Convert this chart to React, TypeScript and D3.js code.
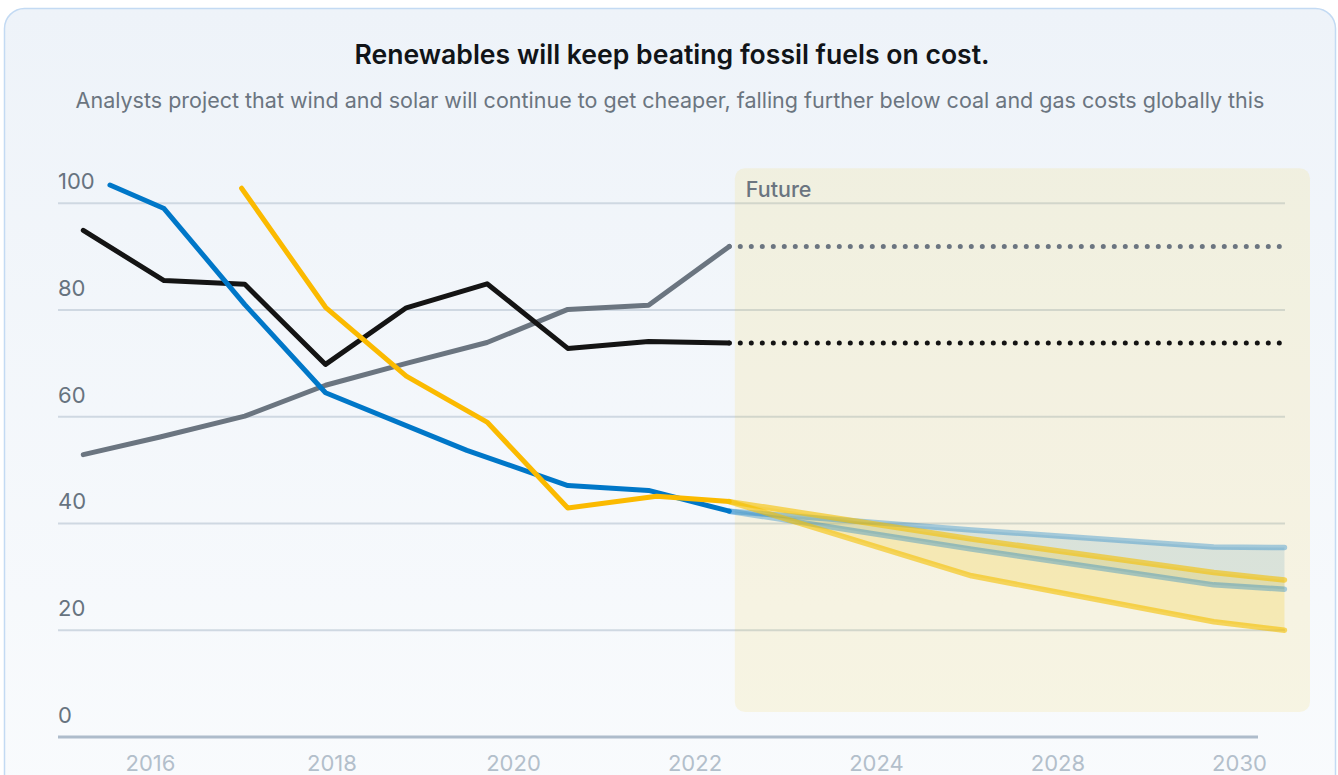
import React from "react";
import * as d3 from "d3";

// ---- data ----
const title = "Renewables will keep beating fossil fuels on cost.";
const subtitle =
  "Analysts project that wind and solar will continue to get cheaper, falling further below coal and gas costs globally this";
const yTicks = [0, 20, 40, 60, 80, 100];
const xTickLabels = ["2016", "2018", "2020", "2022", "2024", "2028", "2030"];

// historical series: step position along the time axis + value
const coalSteps = [0, 1, 2, 3, 4, 5, 6, 7, 8];
const coalValues = [94.9, 85.5, 84.8, 69.8, 80.4, 84.9, 72.8, 74.1, 73.8];
const gasSteps = [0, 0.95, 2, 3, 4, 5, 6, 7, 8];
const gasValues = [52.9, 56.2, 60.1, 65.9, 70.0, 73.9, 80.1, 80.9, 91.9];
const windSteps = [0.33, 1, 2, 3, 4.75, 6, 7, 8];
const windValues = [103.4, 99.0, 81.0, 64.5, 53.7, 47.1, 46.2, 42.3];
const solarSteps = [1.96, 3, 4, 5, 6, 7.1, 8];
const solarValues = [102.8, 80.5, 67.6, 59.0, 42.9, 45.1, 44.1];

// projections
const futureSteps = [8, 11, 14, 14.875];
const windHigh = [42.3, 38.8, 35.6, 35.5];
const windLow = [42.3, 35.2, 28.5, 27.7];
const solarHigh = [44.1, 37.1, 30.8, 29.4];
const solarLow = [44.1, 30.2, 21.6, 20.0];
const coalFlat = [73.8, 73.8];
const gasFlat = [91.9, 91.9];
const flatSteps = [8, 14.875];

// ---- styles ----
const W = 1338;
const H = 775;
const FONT = "Inter, 'Noto Sans', sans-serif";
const COL = {
  coal: "#141414",
  gas: "#6b7580",
  wind: "#0077c8",
  solar: "#fbba00",
  grid: "#cfd8e2",
  axis: "#aebccb",
  label: "#67737f",
  xlabel: "#b3bfcb",
};

type P = { s: number; v: number };
const zip = (s: number[], v: number[]): P[] => s.map((d, i) => ({ s: d, v: v[i] }));

export default function App() {
  const plotLeft = 58;
  const plotRight = 1285;
  const x = d3.scaleLinear().domain([0, 8]).range([83.3, 729.3]);
  const y = d3.scaleLinear().domain([0, 100]).range([737, 203.2]);
  const xl = d3.scalePoint<string>().domain(xTickLabels).range([150.5, 1239.5]);

  const line = d3
    .line<P>()
    .x((d) => x(d.s))
    .y((d) => y(d.v));

  const band = (hi: number[], lo: number[]) =>
    d3
      .area<number>()
      .x((d) => x(d))
      .y0((_, i) => y(lo[i]))
      .y1((_, i) => y(hi[i]))(futureSteps) as string;

  const futLeft = x(8) + 5.5;
  const futTop = y(100) - 35;
  const futRight = plotRight + 25;
  const futBottom = y(0) - 25;

  return (
    <div style={{ position: "absolute", left: 0, top: 0 }}>
      <svg width={W} height={H} style={{ display: "block" }}>
        <defs>
          <linearGradient id="cardbg" x1="0" y1="0" x2="0" y2="1">
            <stop offset="0" stopColor="#eef3f9" />
            <stop offset="1" stopColor="#f9fbfd" />
          </linearGradient>
        </defs>
        <rect x={0} y={0} width={W} height={H} fill="#ffffff" />
        <rect
          x={4.5}
          y={8.5}
          width={1331}
          height={800}
          rx={20}
          fill="url(#cardbg)"
          stroke="#c3daf3"
          strokeWidth={1.5}
        />

        <text
          x={W / 2 + 3}
          y={64}
          textAnchor="middle"
          fontFamily={FONT}
          fontSize={26.6}
          fontWeight={600}
          fill="#111418"
        >
          {title}
        </text>
        <text
          x={W / 2 + 1}
          y={108}
          textAnchor="middle"
          fontFamily={FONT}
          fontSize={21.5}
          fill="#6b7580"
        >
          {subtitle}
        </text>

        {/* grid */}
        {yTicks
          .filter((t) => t > 0)
          .map((t) => (
            <line
              key={t}
              x1={plotLeft}
              x2={plotRight}
              y1={y(t)}
              y2={y(t)}
              stroke={COL.grid}
              strokeWidth={2}
            />
          ))}
        <line x1={plotLeft} x2={1258} y1={y(0)} y2={y(0)} stroke={COL.axis} strokeWidth={3} />
        {yTicks.map((t) => (
          <text
            key={t}
            x={plotLeft}
            y={y(t) - 14}
            fontFamily={FONT}
            fontSize={22}
            fill={COL.label}
          >
            {t}
          </text>
        ))}
        {xTickLabels.map((t) => (
          <text
            key={t}
            x={xl(t)}
            y={771}
            textAnchor="middle"
            fontFamily={FONT}
            fontSize={22}
            fill={COL.xlabel}
          >
            {t}
          </text>
        ))}

        {/* historical */}
        {[
          { s: gasSteps, v: gasValues, c: COL.gas },
          { s: coalSteps, v: coalValues, c: COL.coal },
          { s: windSteps, v: windValues, c: COL.wind },
          { s: solarSteps, v: solarValues, c: COL.solar },
        ].map((d, i) => (
          <path
            key={i}
            d={line(zip(d.s, d.v)) as string}
            fill="none"
            stroke={d.c}
            strokeWidth={5}
            strokeLinecap="round"
            strokeLinejoin="round"
          />
        ))}

        {/* future region */}
        <rect
          x={futLeft}
          y={futTop}
          width={futRight - futLeft}
          height={futBottom - futTop}
          rx={10}
          fill="#f5c400"
          fillOpacity={0.1}
        />
        <text
          x={futLeft + 11}
          y={futTop + 29}
          fontFamily={FONT}
          fontSize={21.5}
          fontWeight={500}
          fill="#6b7580"
        >
          Future
        </text>

        <path d={band(windHigh, windLow)} fill="#88b3c4" fillOpacity={0.25} />
        <path d={band(solarHigh, solarLow)} fill="#f5c400" fillOpacity={0.2} />
        {[windHigh, windLow].map((v, i) => (
          <path
            key={"w" + i}
            d={line(zip(futureSteps, v)) as string}
            fill="none"
            stroke={COL.wind}
            strokeOpacity={0.33}
            strokeWidth={5.5}
            strokeLinecap="round"
            strokeLinejoin="round"
          />
        ))}
        {[solarHigh, solarLow].map((v, i) => (
          <path
            key={"s" + i}
            d={line(zip(futureSteps, v)) as string}
            fill="none"
            stroke="#f5c000"
            strokeOpacity={0.6}
            strokeWidth={5.5}
            strokeLinecap="round"
            strokeLinejoin="round"
          />
        ))}

        {[
          { v: gasFlat, c: COL.gas },
          { v: coalFlat, c: COL.coal },
        ].map((d, i) => (
          <path
            key={"f" + i}
            d={line(zip(flatSteps, d.v)) as string}
            fill="none"
            stroke={d.c}
            strokeWidth={5}
            strokeDasharray="0 11"
            strokeLinecap="round"
          />
        ))}
      </svg>
    </div>
  );
}
